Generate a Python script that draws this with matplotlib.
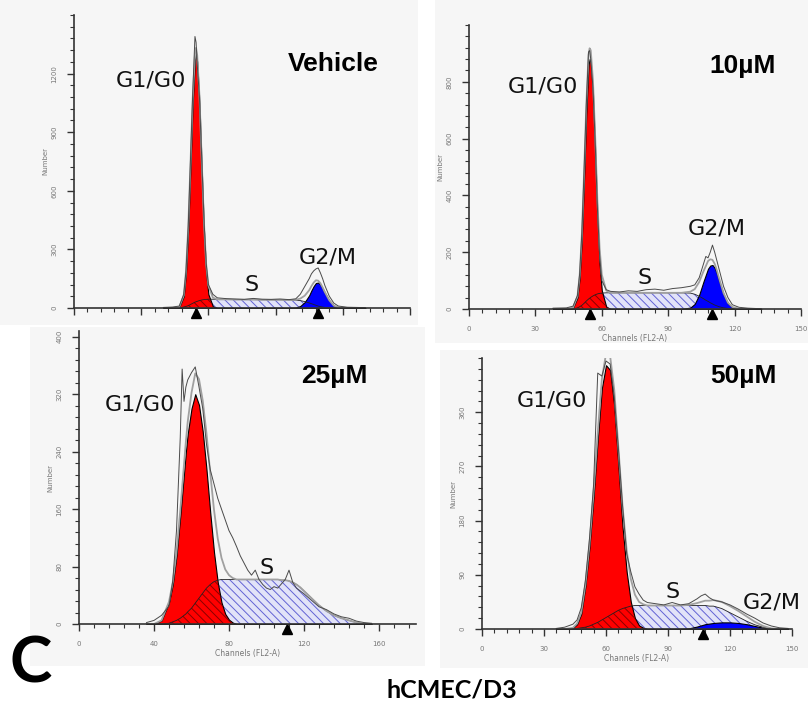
# Histogramas de ciclo celular (hCMEC/D3) - quatro tratamentos
import numpy as np
import matplotlib.pyplot as plt
from matplotlib.patches import Rectangle
from matplotlib.ticker import FixedLocator, MultipleLocator
from matplotlib.transforms import offset_copy

plt.rcParams['hatch.linewidth'] = 0.7

W, H = 808, 706

# ---------------- dados ----------------
# Vehicle
ch1 = [40, 44, 47, 49, 50, 51, 52, 53, 54, 54.5, 55, 56, 57, 58, 59, 60, 62, 64, 68, 72,
       76, 80, 84, 88, 92, 96, 99, 101, 103, 105, 106, 107, 108, 109, 110, 111, 112, 114,
       116, 118, 122, 130]
g1_1 = [0, 0, 5, 60, 180, 400, 720, 1050, 1270, 1300, 1260, 1050, 720, 400, 180, 70, 8, 0, 0, 0,
        0, 0, 0, 0, 0, 0, 0, 0, 0, 0, 0, 0, 0, 0, 0, 0, 0, 0,
        0, 0, 0, 0]
s_1 = [0, 0, 0, 5, 8, 12, 18, 24, 30, 32, 34, 38, 41, 43, 44, 45, 45, 44, 44, 43,
       43, 43, 42, 42, 42, 41, 40, 38, 33, 26, 22, 18, 14, 10, 7, 5, 3, 1,
       0, 0, 0, 0]
g2_1 = [0, 0, 0, 0, 0, 0, 0, 0, 0, 0, 0, 0, 0, 0, 0, 0, 0, 0, 0, 0,
        0, 0, 0, 0, 0, 0, 2, 10, 30, 65, 90, 112, 128, 130, 120, 100, 78, 38,
        12, 3, 0, 0]
raw_1 = [3, 5, 10, 70, 190, 420, 760, 1100, 1390, 1360, 1250, 1080, 770, 460, 230, 120, 70, 52, 48, 46,
         44, 49, 45, 44, 46, 43, 47, 70, 110, 150, 175, 190, 200, 205, 180, 150, 115, 60,
         25, 10, 4, 2]

# 10 uM
ch2 = [38, 44, 47, 49, 50, 51, 52, 53, 54, 54.5, 55, 56, 57, 58, 59, 60, 62, 64, 68, 72,
       76, 80, 84, 88, 92, 96, 100, 102, 104, 106, 107, 108, 109, 110, 111, 112, 113, 115,
       117, 119, 122, 126, 132]
g1_2 = [0, 0, 5, 40, 110, 250, 460, 690, 860, 880, 870, 760, 560, 330, 160, 65, 8, 0, 0, 0,
        0, 0, 0, 0, 0, 0, 0, 0, 0, 0, 0, 0, 0, 0, 0, 0, 0, 0,
        0, 0, 0, 0, 0]
s_2 = [0, 0, 0, 4, 8, 13, 20, 28, 35, 38, 41, 46, 50, 53, 55, 56, 57, 57, 57, 57,
       57, 57, 57, 57, 57, 57, 56, 52, 45, 36, 31, 27, 22, 18, 14, 11, 8, 4,
       2, 1, 0, 0, 0]
g2_2 = [0, 0, 0, 0, 0, 0, 0, 0, 0, 0, 0, 0, 0, 0, 0, 0, 0, 0, 0, 0,
        0, 0, 0, 0, 0, 0, 5, 18, 50, 98, 120, 142, 153, 155, 145, 125, 100, 52,
        20, 6, 1, 0, 0]
raw_2 = [3, 4, 10, 48, 125, 270, 490, 720, 905, 910, 880, 780, 590, 360, 190, 100, 68, 62, 60, 64,
         62, 68, 70, 66, 72, 75, 80, 85, 110, 160, 185, 180, 200, 225, 200, 170, 140, 80,
         40, 15, 6, 3, 1]

# 25 uM
ch3 = [36, 40, 44, 48, 50, 52, 54, 55, 56, 57, 58, 60, 62, 64, 66, 68, 70, 72, 74, 76,
       78, 80, 82, 84, 86, 88, 90, 92, 94, 96, 98, 100, 102, 104, 106, 108, 110, 112,
       114, 116, 118, 120, 124, 128, 132, 136, 140, 144, 148, 152, 156]
g1_3 = [0, 0, 5, 30, 55, 95, 150, 180, 210, 240, 265, 300, 320, 305, 268, 215, 155, 100, 58, 30,
        14, 6, 2, 0, 0, 0, 0, 0, 0, 0, 0, 0, 0, 0, 0, 0, 0, 0,
        0, 0, 0, 0, 0, 0, 0, 0, 0, 0, 0, 0, 0]
s_3 = [0, 0, 0, 1, 3, 5, 8, 10, 12, 14, 17, 22, 29, 36, 43, 50, 55, 59, 61, 62,
       62, 62, 62, 62, 62, 62, 62, 62, 62, 62, 62, 62, 62, 62, 62, 61, 61, 60,
       58, 55, 51, 46, 36, 26, 18, 12, 8, 5, 2, 0, 0]
g2_3 = [0] * len(ch3)
raw_3 = [2, 5, 12, 25, 60, 130, 260, 355, 310, 330, 340, 350, 358, 330, 300, 250, 215, 195, 175, 160,
         145, 130, 120, 108, 95, 85, 75, 68, 75, 62, 55, 50, 48, 52, 50, 56, 62, 75,
         58, 50, 46, 42, 33, 24, 20, 14, 10, 8, 4, 2, 1]

# 50 uM
ch4 = [36, 40, 44, 46, 48, 50, 52, 54, 56, 58, 60, 62, 64, 66, 68, 70, 72, 74, 76, 78,
       80, 84, 88, 92, 96, 100, 104, 106, 108, 110, 112, 116, 120, 124, 128, 132, 136, 140,
       144, 148]
g1_4 = [0, 0, 2, 8, 25, 70, 135, 220, 315, 400, 438, 430, 370, 270, 170, 95, 45, 18, 6, 2,
        0, 0, 0, 0, 0, 0, 0, 0, 0, 0, 0, 0, 0, 0, 0, 0, 0, 0,
        0, 0]
s_4 = [0, 0, 0, 1, 2, 3, 5, 8, 11, 15, 19, 23, 27, 31, 34, 36, 38, 39, 39, 39,
       39, 39, 39, 39, 39, 39, 39, 39, 39, 38, 38, 34, 27, 20, 13, 7, 3, 1,
       0, 0]
g2_4 = [0, 0, 0, 0, 0, 0, 0, 0, 0, 0, 0, 0, 0, 0, 0, 0, 0, 0, 0, 0,
        0, 0, 0, 0, 0, 1, 4, 6, 8, 9, 10, 11, 11, 10, 8, 5, 2, 0,
        0, 0]
raw_4 = [1, 3, 8, 15, 35, 80, 150, 240, 425, 420, 445, 440, 385, 300, 205, 125, 95, 70, 58, 48,
         44, 42, 40, 44, 40, 42, 50, 55, 58, 52, 48, 45, 40, 33, 25, 18, 10, 5,
         2, 1]

titles = ['Vehicle', '10\u00b5M', '25\u00b5M', '50\u00b5M']
marcas = [[54.5, 109], [54.7, 110], [111], [107]]

# ---------------- figura ----------------
fig = plt.figure(figsize=(W / 100, H / 100), dpi=100)
fig.patch.set_facecolor('white')


def fx(x):
    return x / W


def fy(y):
    return 1 - y / H


def caixa(x0, y0, x1, y1):
    fig.add_artist(Rectangle((fx(x0), fy(y1)), (x1 - x0) / W, (y1 - y0) / H,
                             transform=fig.transFigure, facecolor='#f6f6f6',
                             edgecolor='none', zorder=0))


caixa(0, 0, 418, 325)
caixa(435, 0, 808, 343)
caixa(30, 327, 425, 666)
caixa(440, 350, 808, 668)

# (esquerda, topo, direita, base) em pixels; limites; ticks
paineis = [
    dict(box=(74, 15, 410, 308), xl=150, yl=1500, yt=[0, 300, 600, 900, 1200], ym=60,
         xt=[0, 30, 60, 90, 120, 150], xm=6, xlab=False),
    dict(box=(469, 25, 801, 309), xl=150, yl=1000, yt=[0, 200, 400, 600, 800], ym=40,
         xt=[0, 30, 60, 90, 120, 150], xm=6, xlab=True),
    dict(box=(79, 331, 416.5, 624), xl=180, yl=408, yt=[0, 80, 160, 240, 320, 400], ym=16,
         xt=[0, 40, 80, 120, 160], xm=8, xlab=True),
    dict(box=(482, 358, 792, 629), xl=150, yl=450, yt=[0, 90, 180, 270, 360], ym=18,
         xt=[0, 30, 60, 90, 120, 150], xm=6, xlab=True),
]
dados = [(ch1, g1_1, s_1, g2_1, raw_1), (ch2, g1_2, s_2, g2_2, raw_2),
         (ch3, g1_3, s_3, g2_3, raw_3), (ch4, g1_4, s_4, g2_4, raw_4)]

hatch = '\\\\\\\\'
for p, (ch, g1, s, g2, raw), mk in zip(paineis, dados, marcas):
    l, t, r, b = p['box']
    ax = fig.add_axes([fx(l), fy(b), (r - l) / W, (b - t) / H])
    ax.set_facecolor('none')
    ch = np.array(ch, dtype=float)
    g1 = np.array(g1, dtype=float)
    s = np.array(s, dtype=float)
    g2 = np.array(g2, dtype=float)

    ax.fill_between(ch, 0, s, facecolor='#e2e3f8', edgecolor='#6262d4', hatch=hatch,
                    linewidth=0, zorder=2)
    red = ax.fill_between(ch, 0, g1, facecolor='#ff0000', edgecolor='black',
                          linewidth=0.8, zorder=3)
    over = ax.fill_between(ch, 0, s, facecolor='none', edgecolor='#8a0000', hatch=hatch,
                           linewidth=0, zorder=4)
    over.set_clip_path(red.get_paths()[0], ax.transData)
    if g2.max() > 0:
        ax.fill_between(ch, 0, g2, facecolor='#0000ff', edgecolor='black',
                        linewidth=0.8, zorder=3)
    ax.plot(ch, s, color='#222222', lw=0.6, zorder=5)
    ax.plot(ch, g1 + s + g2, color='#a0a0a0', lw=1.3, zorder=6)
    ax.plot(ch, raw, color='#4a4a4a', lw=0.7, zorder=7)

    trans = offset_copy(ax.get_xaxis_transform(), fig=fig, y=-5, units='dots')
    ax.plot(mk, [0] * len(mk), ls='none', marker='^', ms=7, color='black',
            transform=trans, clip_on=False, zorder=8)

    ax.set_xlim(0, p['xl'])
    ax.set_ylim(0, p['yl'])
    for sp in ['top', 'right']:
        ax.spines[sp].set_visible(False)
    for sp in ['left', 'bottom']:
        ax.spines[sp].set_color('#333333')
        ax.spines[sp].set_linewidth(1.2)
        ax.spines[sp].set_zorder(9)
    ax.yaxis.set_major_locator(FixedLocator(p['yt']))
    ax.yaxis.set_minor_locator(MultipleLocator(p['ym']))
    ax.xaxis.set_major_locator(FixedLocator(p['xt']))
    ax.xaxis.set_minor_locator(MultipleLocator(p['xm']))
    ax.tick_params(which='major', length=5, width=1, color='#333333', labelsize=5,
                   labelcolor='#777777')
    ax.tick_params(which='minor', length=3, width=0.8, color='#333333')
    ax.tick_params(axis='y', which='major', pad=7, labelrotation=90)
    for lab in ax.get_yticklabels():
        lab.set_va('center')
    ax.tick_params(axis='x', which='major', pad=7)
    ax.set_ylabel('Number', fontsize=5, color='#777777', labelpad=2)
    if p['xlab']:
        ax.set_xlabel('Channels (FL2-A)', fontsize=5.5, color='#777777', labelpad=2)
    else:
        ax.set_xticklabels([])

# titulos dos paineis
tit_pos = [(333, 64), (743, 66), (334, 376), (743, 376)]
for tt, (x, y) in zip(titles, tit_pos):
    fig.text(fx(x), fy(y), tt, fontsize=19, fontweight='bold', family='Liberation Sans',
             ha='center', va='center')

# rotulos das fases
fases = [('G1/G0', 151, 80), ('S', 252, 285), ('G2/M', 328, 257),
         ('G1/G0', 543, 86), ('S', 645, 278), ('G2/M', 717, 229),
         ('G1/G0', 140, 404), ('S', 267, 568),
         ('G1/G0', 552, 401), ('S', 673, 592), ('G2/M', 772, 602)]
for tt, x, y in fases:
    fig.text(fx(x), fy(y), tt, fontsize=16, family='DejaVu Sans', color='#111111',
             ha='center', va='center', zorder=20)

fig.text(fx(31), fy(664), 'C', fontsize=46, fontweight='bold', family='Lato',
         ha='center', va='center')
fig.text(fx(452), fy(690), 'hCMEC/D3', fontsize=18, fontweight='bold', family='Lato',
         ha='center', va='center')

fig.savefig('out.png', dpi=100)
